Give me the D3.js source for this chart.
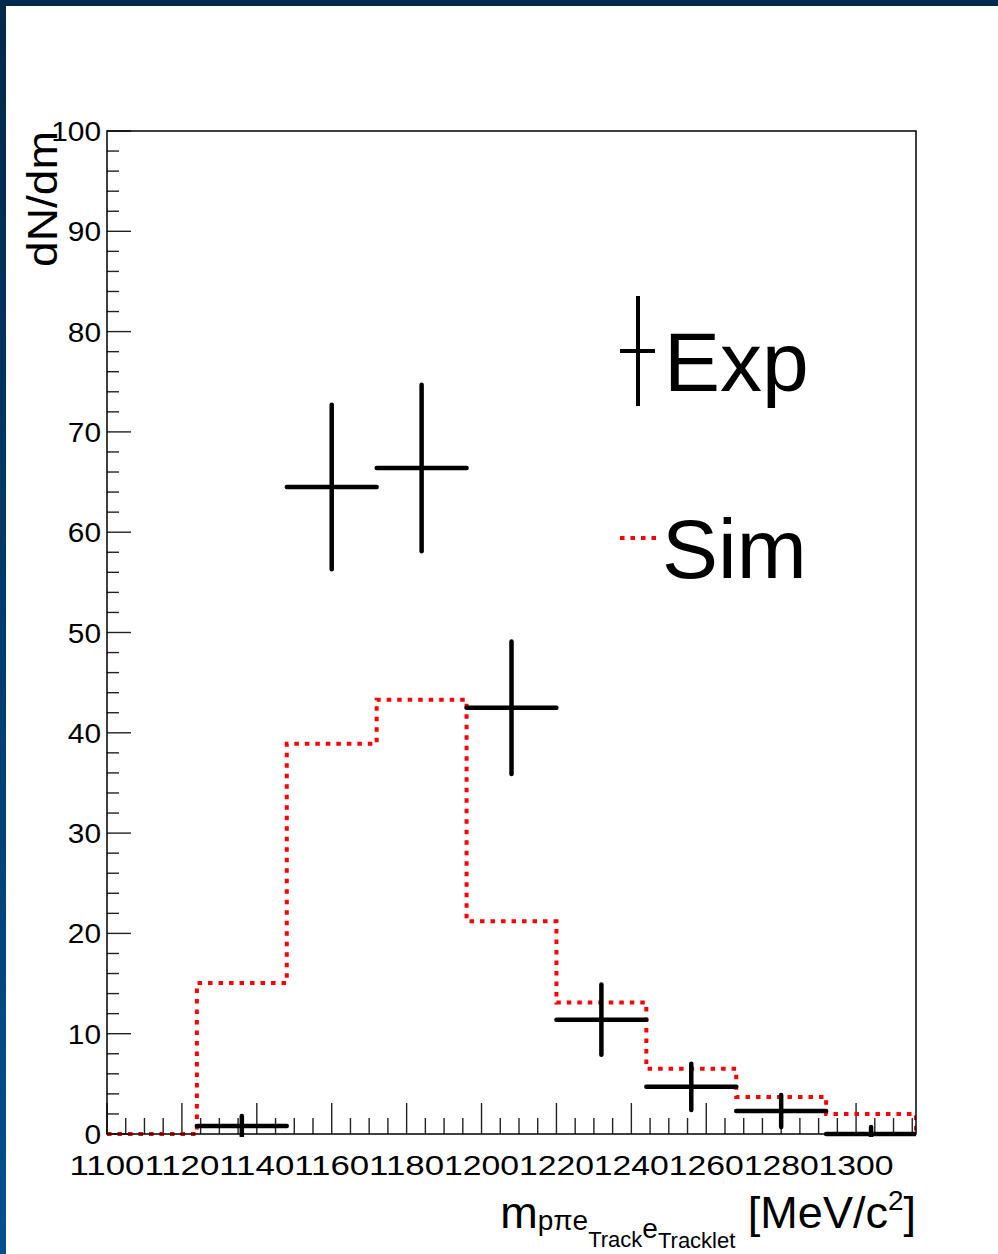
<!DOCTYPE html>
<html>
<head>
<meta charset="utf-8">
<script src="https://cdn.jsdelivr.net/npm/d3@7"></script>
<style>
  html, body { margin: 0; padding: 0; background: #ffffff; }
  svg { display: block; }
  text { font-family: "Liberation Sans", Arial, Helvetica, sans-serif; fill: #000; }
</style>
</head>
<body>
<svg id="chart" width="998" height="1254"></svg>
<script>
// Histogram binning: 9 bins of 24 MeV/c^2 from 1100 to 1316
const binEdges = [1100, 1124, 1148, 1172, 1196, 1220, 1244, 1268, 1292, 1316];

// Simulated distribution (one value per bin)
const simValues = [0, 15.05, 38.9, 43.3, 21.2, 13.1, 6.5, 3.7, 2.0];

// Experimental points: bin index, value, statistical error
const expBins   = [1, 2, 3, 4, 5, 6, 7, 8];
const expValues = [0.8, 64.5, 66.4, 42.5, 11.4, 4.7, 2.3, 0];
const expErrors = [1.0, 8.2, 8.3, 6.6, 3.5, 2.3, 1.6, 0.7];

// Axis ticks
const xMajorTicks = [1100, 1120, 1140, 1160, 1180, 1200, 1220, 1240, 1260, 1280, 1300];
const yMajorTicks = [0, 10, 20, 30, 40, 50, 60, 70, 80, 90, 100];

const svg = d3.select("#chart");
const W = 998, H = 1254;
const frame = { left: 107, right: 916, top: 131, bottom: 1134 };

// Window border (canvas edge)
const defs = svg.append("defs");
const grad = defs.append("linearGradient").attr("id", "edgeGrad")
  .attr("x1", 0).attr("y1", 0).attr("x2", 0).attr("y2", 1);
grad.append("stop").attr("offset", "0%").attr("stop-color", "#00284a");
grad.append("stop").attr("offset", "100%").attr("stop-color", "#005091");
svg.append("rect").attr("x", 0).attr("y", 0).attr("width", W).attr("height", H).attr("fill", "#fff");
svg.append("rect").attr("x", 0).attr("y", 0).attr("width", 6).attr("height", H).attr("fill", "url(#edgeGrad)");
svg.append("rect").attr("x", 0).attr("y", 0).attr("width", W).attr("height", 6).attr("fill", "#00284a");

const x = d3.scaleLinear().domain([1100, 1316]).range([frame.left, frame.right]);
const y = d3.scaleLinear().domain([0, 100]).range([frame.bottom, frame.top]);

// Clip region: the frame, with a few pixels of slack below the x axis
defs.append("clipPath").attr("id", "plotClip").append("rect")
  .attr("x", frame.left).attr("y", frame.top)
  .attr("width", frame.right - frame.left).attr("height", frame.bottom - frame.top + 3);

// X axis: major ticks every 20, minor every 5, drawn upward into the frame
const xAxis = svg.append("g").attr("class", "x-axis");
xAxis.selectAll("line")
  .data(d3.range(1100, 1316, 5))
  .join("line")
  .attr("x1", d => x(d)).attr("x2", d => x(d))
  .attr("y1", frame.bottom).attr("y2", d => frame.bottom - (d % 20 === 0 ? 31 : 16))
  .attr("stroke", "#222").attr("stroke-width", 1.4);
xAxis.selectAll("text")
  .data(xMajorTicks)
  .join("text")
  .attr("x", d => x(d)).attr("y", 1175)
  .attr("text-anchor", "middle")
  .attr("font-size", 28)
  .attr("textLength", 75)
  .attr("lengthAdjust", "spacingAndGlyphs")
  .text(d => d);

// Y axis: major ticks every 10, minor every 2, drawn rightward into the frame
const yAxis = svg.append("g").attr("class", "y-axis");
yAxis.selectAll("line")
  .data(d3.range(0, 101, 2))
  .join("line")
  .attr("x1", frame.left).attr("x2", d => frame.left + (d % 10 === 0 ? 24 : 12))
  .attr("y1", d => y(d)).attr("y2", d => y(d))
  .attr("stroke", "#222").attr("stroke-width", 1.4);
yAxis.selectAll("text")
  .data(yMajorTicks)
  .join("text")
  .attr("x", 101).attr("y", d => y(d) + 10)
  .attr("text-anchor", "end")
  .attr("font-size", 28)
  .attr("textLength", d => String(d).length * 16.6)
  .attr("lengthAdjust", "spacingAndGlyphs")
  .text(d => d);

// Simulation histogram as a dotted step line
const simPts = [[binEdges[0], 0]];
simValues.forEach((v, i) => {
  simPts.push([binEdges[i], v]);
  simPts.push([binEdges[i + 1], v]);
});
simPts.push([binEdges[binEdges.length - 1], 0]);
svg.append("path")
  .attr("clip-path", "url(#plotClip)")
  .attr("d", d3.line().x(d => x(d[0])).y(d => y(d[1]))(simPts))
  .attr("fill", "none")
  .attr("stroke", "#ff0000")
  .attr("stroke-width", 4)
  .attr("stroke-dasharray", "4.5,6");

// Experimental points with horizontal bin-width bars and vertical error bars
const expG = svg.append("g").attr("clip-path", "url(#plotClip)");
expBins.forEach((b, i) => {
  const lo = binEdges[b], hi = binEdges[b + 1], c = (lo + hi) / 2;
  expG.append("line")
    .attr("x1", x(lo)).attr("x2", x(hi))
    .attr("y1", y(expValues[i])).attr("y2", y(expValues[i]))
    .attr("stroke", "#000").attr("stroke-width", 4.5).attr("stroke-linecap", "round");
  expG.append("line")
    .attr("x1", x(c)).attr("x2", x(c))
    .attr("y1", y(expValues[i] - expErrors[i])).attr("y2", y(expValues[i] + expErrors[i]))
    .attr("stroke", "#000").attr("stroke-width", 4.5).attr("stroke-linecap", "round");
});

// Frame
svg.append("rect")
  .attr("x", frame.left).attr("y", frame.top)
  .attr("width", frame.right - frame.left).attr("height", frame.bottom - frame.top)
  .attr("fill", "none").attr("stroke", "#000").attr("stroke-width", 1.5);

// Axis titles
svg.append("text")
  .attr("transform", `translate(57, ${frame.top}) rotate(-90)`)
  .attr("text-anchor", "end")
  .attr("font-size", 42)
  .attr("textLength", 136)
  .attr("lengthAdjust", "spacingAndGlyphs")
  .text("dN/dm");

const xt = svg.append("text")
  .attr("x", frame.right).attr("y", 1228)
  .attr("text-anchor", "end")
  .attr("font-size", 45);
xt.append("tspan").text("m");
xt.append("tspan").attr("font-size", 28).attr("dy", 2).text("pπe");
xt.append("tspan").attr("font-size", 22).attr("dy", 17).text("Track");
xt.append("tspan").attr("font-size", 28).attr("dy", -9).text("e");
xt.append("tspan").attr("font-size", 22).attr("dy", 10).text("Tracklet");
xt.append("tspan").attr("dy", -20).text(" [MeV/c");
xt.append("tspan").attr("font-size", 28).attr("dy", -18).text("2");
xt.append("tspan").attr("dy", 18).text("]");

// Legend
const leg = svg.append("g");
leg.append("line").attr("x1", 638).attr("x2", 638).attr("y1", 296).attr("y2", 406)
  .attr("stroke", "#000").attr("stroke-width", 4);
leg.append("line").attr("x1", 620).attr("x2", 655).attr("y1", 351).attr("y2", 351)
  .attr("stroke", "#000").attr("stroke-width", 4);
leg.append("text").attr("x", 664).attr("y", 391).attr("font-size", 84).text("Exp");
leg.append("line").attr("x1", 620).attr("x2", 656).attr("y1", 538).attr("y2", 538)
  .attr("stroke", "#ff0000").attr("stroke-width", 4).attr("stroke-dasharray", "4.5,6");
leg.append("text").attr("x", 662).attr("y", 578).attr("font-size", 84).text("Sim");
</script>
</body>
</html>
